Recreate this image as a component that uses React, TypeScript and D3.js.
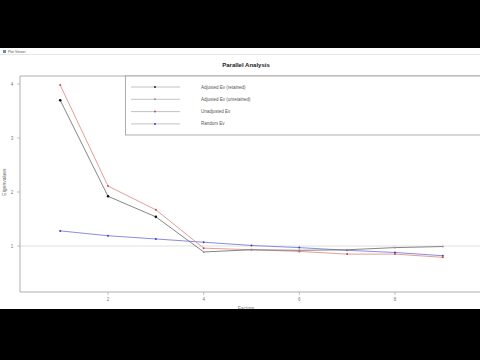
import React from 'react';
import * as d3 from 'd3';

// eigenvalues, factors 1..9
const factors = [1, 2, 3, 4, 5, 6, 7, 8, 9];
const adjustedEv = [3.7, 1.92, 1.54, 0.89, 0.93, 0.92, 0.93, 0.97, 0.99];
const unadjustedEv = [3.98, 2.11, 1.67, 0.96, 0.93, 0.9, 0.85, 0.85, 0.79];
const randomEv = [1.28, 1.19, 1.13, 1.07, 1.01, 0.97, 0.92, 0.88, 0.82];
const retained = 3;
const xTicks = [2, 4, 6, 8];
const yTicks = [1, 2, 3, 4];
const legendLabels = ['Adjusted Ev (retained)', 'Adjusted Ev (unretained)', 'Unadjusted Ev', 'Random Ev'];
const legendColors = ['#222', '#999', '#d04848', '#3c3cc8'];

const FONT = 'Liberation Sans, Arial, sans-serif';

export default function App() {
  const x = d3.scaleLinear().domain([1, 9]).range([60.2, 442.8]);
  const y = d3.scaleLinear().domain([1, 4]).range([246, 84]);
  const line = d3.line<number>().x((_, i) => x(factors[i])).y(d => y(d));

  const left = 20, top = 76, bottom = 292;

  return (
    <svg width={480} height={360} style={{ position: 'absolute', left: 0, top: 0, background: '#000' }}>
      {/* window */}
      <rect x={0} y={48} width={480} height={262} fill="#fff" />
      <line x1={0} x2={480} y1={54.5} y2={54.5} stroke="#e6e6e6" />
      <rect x={3} y={50} width={3} height={3} fill="#6a8ab8" />
      <text x={8} y={53} fontSize={3.5} fill="#555" fontFamily={FONT}>Plot Viewer</text>

      <text x={246} y={67} fontSize={6} fontWeight="bold" textAnchor="middle" fill="#222" fontFamily={FONT}>
        Parallel Analysis
      </text>

      {/* reference line at eigenvalue 1 */}
      <line x1={left} x2={480} y1={y(1)} y2={y(1)} stroke="#d8d8d8" strokeWidth={0.8} />

      {/* plot frame */}
      <path d={`M480,${top}H${left}V${bottom}H480`} fill="none" stroke="#999" strokeWidth={0.8} />

      {/* y axis */}
      {yTicks.map(t => (
        <g key={t}>
          <line x1={left - 3} x2={left} y1={y(t)} y2={y(t)} stroke="#999" strokeWidth={0.6} />
          <text x={12} y={y(t) + 1.5} fontSize={4.5} textAnchor="middle" fill="#777" fontFamily={FONT}>{t}</text>
        </g>
      ))}
      <text transform={`translate(6,182) rotate(-90)`} fontSize={5} textAnchor="middle" fill="#666" fontFamily={FONT}>
        Eigenvalues
      </text>

      {/* x axis */}
      {xTicks.map(t => (
        <g key={t}>
          <line x1={x(t)} x2={x(t)} y1={bottom} y2={bottom + 3} stroke="#999" strokeWidth={0.6} />
          <text x={x(t)} y={301} fontSize={4.5} textAnchor="middle" fill="#777" fontFamily={FONT}>{t}</text>
        </g>
      ))}
      <text x={246} y={310} fontSize={5} textAnchor="middle" fill="#777" fontFamily={FONT}>Factors</text>

      {/* series */}
      <path d={line(randomEv) ?? ''} fill="none" stroke="#6e6ed6" strokeWidth={0.8} />
      <path d={line(unadjustedEv) ?? ''} fill="none" stroke="#dc8484" strokeWidth={0.8} />
      <path d={line(adjustedEv) ?? ''} fill="none" stroke="#666" strokeWidth={0.8} />
      {randomEv.map((d, i) => <circle key={'r' + i} cx={x(factors[i])} cy={y(d)} r={1} fill="#3c3cc8" />)}
      {unadjustedEv.map((d, i) => <circle key={'u' + i} cx={x(factors[i])} cy={y(d)} r={1} fill="#d04848" />)}
      {adjustedEv.map((d, i) => (
        <circle key={'a' + i} cx={x(factors[i])} cy={y(d)} r={i < retained ? 1.3 : 1} fill={i < retained ? '#111' : '#999'} />
      ))}

      {/* legend */}
      <rect x={125.5} y={top} width={360} height={59} fill="#fff" stroke="#999" strokeWidth={0.8} />
      {legendLabels.map((lab, i) => {
        const ly = 87 + i * 12.3;
        return (
          <g key={lab}>
            <line x1={131} x2={180} y1={ly} y2={ly} stroke="#aaa" strokeWidth={0.7} />
            <circle cx={155} cy={ly} r={1} fill={legendColors[i]} />
            <text x={201} y={ly + 1.5} fontSize={4.5} fill="#555" fontFamily={FONT}>{lab}</text>
          </g>
        );
      })}

      <rect x={0} y={309} width={480} height={51} fill="#000" />
    </svg>
  );
}
